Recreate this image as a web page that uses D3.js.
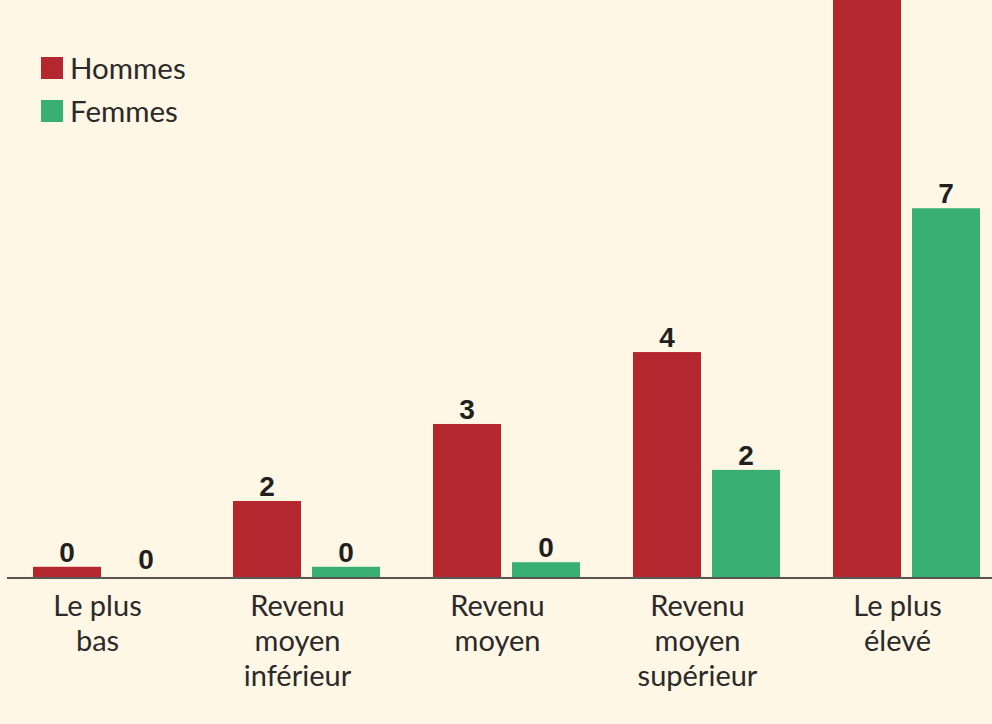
<!DOCTYPE html>
<html><head><meta charset="utf-8">
<script src="https://cdn.jsdelivr.net/npm/d3@7"></script>
<style>
html,body{margin:0;padding:0;background:#FEF7E5;}
svg{display:block;}
</style></head>
<body>
<svg id="chart" width="992" height="724"></svg>
<script>
const categories = ["Le plus bas", "Revenu moyen inférieur", "Revenu moyen", "Revenu moyen supérieur", "Le plus élevé"];
const categoryLines = [["Le plus", "bas"], ["Revenu", "moyen", "inférieur"], ["Revenu", "moyen"], ["Revenu", "moyen", "supérieur"], ["Le plus", "élevé"]];
const seriesNames = ["Hommes", "Femmes"];
const hommes = [0.22, 1.51, 3.02, 4.43, 13.5];
const femmes = [0, 0.22, 0.31, 2.12, 7.25];
const seriesColors = ["#B5272F", "#39AF73"];

const svg = d3.select("#chart");
const W = 992, H = 724;
svg.append("rect").attr("width", W).attr("height", H).attr("fill", "#FEF7E5");

const baseY = 578;
const x0 = d3.scaleBand().domain(categories).range([33, 980]).paddingInner(0.265).paddingOuter(0);
const x1 = d3.scaleBand().domain(seriesNames).range([0, x0.bandwidth()]).paddingInner(11/79);
const y = d3.scaleLinear().domain([0, 10]).range([baseY, baseY - 510]);

const data = categories.map((c, i) => ({cat: c, vals: [hommes[i], femmes[i]]}));
const fmt = d3.format(".0f");

const groups = svg.append("g").selectAll("g").data(data).join("g")
  .attr("transform", d => `translate(${x0(d.cat)},0)`);

groups.selectAll("rect").data(d => d.vals.map((v, j) => ({v, s: seriesNames[j], j})))
  .join("rect")
  .attr("x", d => x1(d.s)).attr("width", x1.bandwidth())
  .attr("y", d => Math.max(0, y(d.v))).attr("height", d => baseY - Math.max(0, y(d.v)))
  .attr("fill", d => seriesColors[d.j]);

// value labels (those above the visible frame are not drawn, as in the cropped original)
groups.selectAll("text.val").data(d => d.vals.map((v, j) => ({v, s: seriesNames[j], j})).filter(e => y(e.v) > 30))
  .join("text").attr("class", "val")
  .attr("x", d => x1(d.s) + x1.bandwidth() / 2)
  .attr("y", d => y(d.v) - (d.v === 0 ? 9 : 5))
  .attr("text-anchor", "middle")
  .attr("font-family", "'Liberation Sans', Arial, sans-serif").attr("font-weight", "bold")
  .attr("font-size", 28).attr("fill", "#231F20")
  .text(d => fmt(d.v));

// baseline axis
const axis = d3.axisBottom(x0).tickSize(0).tickFormat("");
const axG = svg.append("g").attr("transform", `translate(0,${baseY})`).call(axis);
axG.select(".domain").attr("d", `M7,0H${W}`).attr("stroke", "#5a5550").attr("stroke-width", 2);

// category labels
const lab = svg.append("g").selectAll("text").data(categories).join("text")
  .attr("text-anchor", "middle")
  .attr("font-family", "Lato, sans-serif").attr("font-size", 29).attr("fill", "#2b2929")
  .attr("transform", (d, i) => `translate(${x0(d) + x0.bandwidth() / 2 - 9},616)`);
lab.selectAll("tspan").data((d, i) => categoryLines[i]).join("tspan")
  .attr("x", 0).attr("dy", (d, k) => k === 0 ? 0 : 35).text(d => d);

// legend
const leg = svg.append("g").selectAll("g").data(seriesNames).join("g")
  .attr("transform", (d, i) => `translate(41,${57 + i * 43})`);
leg.append("rect").attr("width", 22).attr("height", 22).attr("fill", (d, i) => seriesColors[i]);
leg.append("text").attr("x", 29).attr("y", 22).attr("font-family", "Lato, sans-serif")
  .attr("font-size", 29.5).attr("fill", "#2b2929").text(d => d);
</script>
</body></html>
